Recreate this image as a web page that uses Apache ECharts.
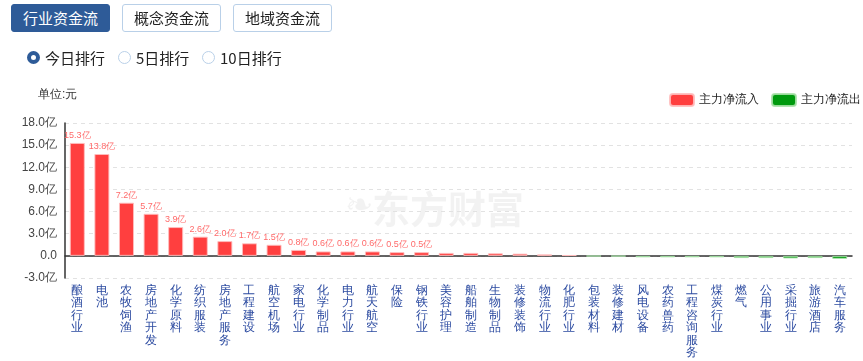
<!DOCTYPE html>
<html><head><meta charset="utf-8">
<script src="https://cdn.jsdelivr.net/npm/echarts@6/dist/echarts.min.js"></script>
<style>
html,body{margin:0;padding:0;background:#fff;font-family:"Noto Sans CJK SC","Noto Sans",sans-serif;}
#wrap{position:relative;width:863px;height:361px;overflow:hidden;}
#chart{position:absolute;left:0;top:0;width:863px;height:361px;}
.tab{position:absolute;top:4px;width:99px;height:28px;border:1px solid #b9d0e8;border-radius:3px;box-sizing:border-box;font-size:15px;line-height:26px;text-align:center;color:#222;background:#fff;}
.tab.on{background:#2e5b98;color:#fff;border-color:#2e5b98;}
.radio{position:absolute;top:49px;font-size:15px;color:#222;line-height:17px;}
.rc{position:absolute;top:51px;width:13px;height:13px;border-radius:50%;box-sizing:border-box;border:1px solid #b9d0e8;background:#fff;}
.rc.on{border:4px solid #2e5b98;}
</style></head>
<body><div id="wrap">
<div id="chart"></div>
<div class="tab on" style="left:11px">行业资金流</div>
<div class="tab" style="left:122px">概念资金流</div>
<div class="tab" style="left:233px">地域资金流</div>
<div class="rc on" style="left:27px"></div><div class="radio" style="left:45px">今日排行</div>
<div class="rc" style="left:118px"></div><div class="radio" style="left:136px">5日排行</div>
<div class="rc" style="left:202px"></div><div class="radio" style="left:220px">10日排行</div>
</div>
<script>
const categories = ['酿酒行业','电池','农牧饲渔','房地产开发','化学原料','纺织服装','房地产服务','工程建设','航空机场','家电行业','化学制品','电力行业','航天航空','保险','钢铁行业','美容护理','船舶制造','生物制品','装修装饰','物流行业','化肥行业','包装材料','装修建材','风电设备','农药兽药','工程咨询服务','煤炭行业','燃气','公用事业','采掘行业','旅游酒店','汽车服务'];
const netFlow = [15.3,13.8,7.2,5.7,3.9,2.6,2.0,1.7,1.5,0.8,0.6,0.6,0.6,0.5,0.5,0.4,0.4,0.35,0.3,0.2,0.1,-0.05,-0.06,-0.2,-0.2,-0.2,-0.2,-0.3,-0.3,-0.35,-0.3,-0.4];
const labeledCount = 15;
const yTicks = {min:-3, max:18, interval:3};
const legendNames = ['主力净流入','主力净流出'];

const RED = '#ff3f3f', GREEN = '#009a0e';
const chart = echarts.init(document.getElementById('chart'));
chart.setOption({
  animation:false,
  grid:{left:65,right:11,top:123,bottom:83},
  legend:{
    right:-3, top:88, itemWidth:24, itemHeight:12, itemGap:12,
    textStyle:{fontSize:12,color:'#222'},
    data:[{name:legendNames[0],itemStyle:{color:RED}},{name:legendNames[1],itemStyle:{color:GREEN}}]
  },
  graphic:[
    {type:'text',left:38,top:89,style:{text:'单位:元',fontSize:12,fill:'#333'}},
    {type:'text',left:372,top:190,z:0,style:{text:'东方财富',fontSize:38,fontWeight:'bold',fill:'rgba(0,0,0,0.05)',fontFamily:'Noto Sans CJK SC'}},
    {type:'text',left:345,top:190,z:0,style:{text:'❧',fontSize:34,fill:'rgba(0,0,0,0.05)'}}
  ],
  xAxis:{
    type:'category', data:categories,
    axisLine:{onZero:true,lineStyle:{color:'#333',width:1.5}},
    axisTick:{show:false},
    axisLabel:{interval:0,color:'#2b4aa0',fontSize:12,lineHeight:12.5,verticalAlign:'top',margin:6,
      formatter:v=>v.split('').join('\n')}
  },
  yAxis:{
    type:'value', min:yTicks.min, max:yTicks.max, interval:yTicks.interval,
    axisLine:{show:true,lineStyle:{color:'#333',width:1.5}},
    axisTick:{show:false},
    axisLabel:{color:'#444',fontSize:12,margin:8,formatter:v=>v===0?'0.0':v.toFixed(1)+'亿'},
    splitLine:{lineStyle:{type:[4,4],color:'#e2e2e2'}}
  },
  series:[
    {name:legendNames[0],type:'bar',barWidth:15,barGap:'-100%',
     data:netFlow.map((v,i)=>v>0?{value:v,label:{show:i<labeledCount}}:'-'),
     itemStyle:{color:RED,borderColor:'rgba(255,190,190,0.9)',borderWidth:1},
     label:{position:'top',distance:3,fontSize:9,color:'#ff6a6a',formatter:p=>p.value.toFixed(1)+'亿'}},
    {name:legendNames[1],type:'bar',barWidth:15,barGap:'-100%',
     data:netFlow.map(v=>v<0?v:'-'),
     itemStyle:{color:GREEN,borderColor:'rgba(170,225,170,0.9)',borderWidth:1}}
  ]
});
</script></body></html>
